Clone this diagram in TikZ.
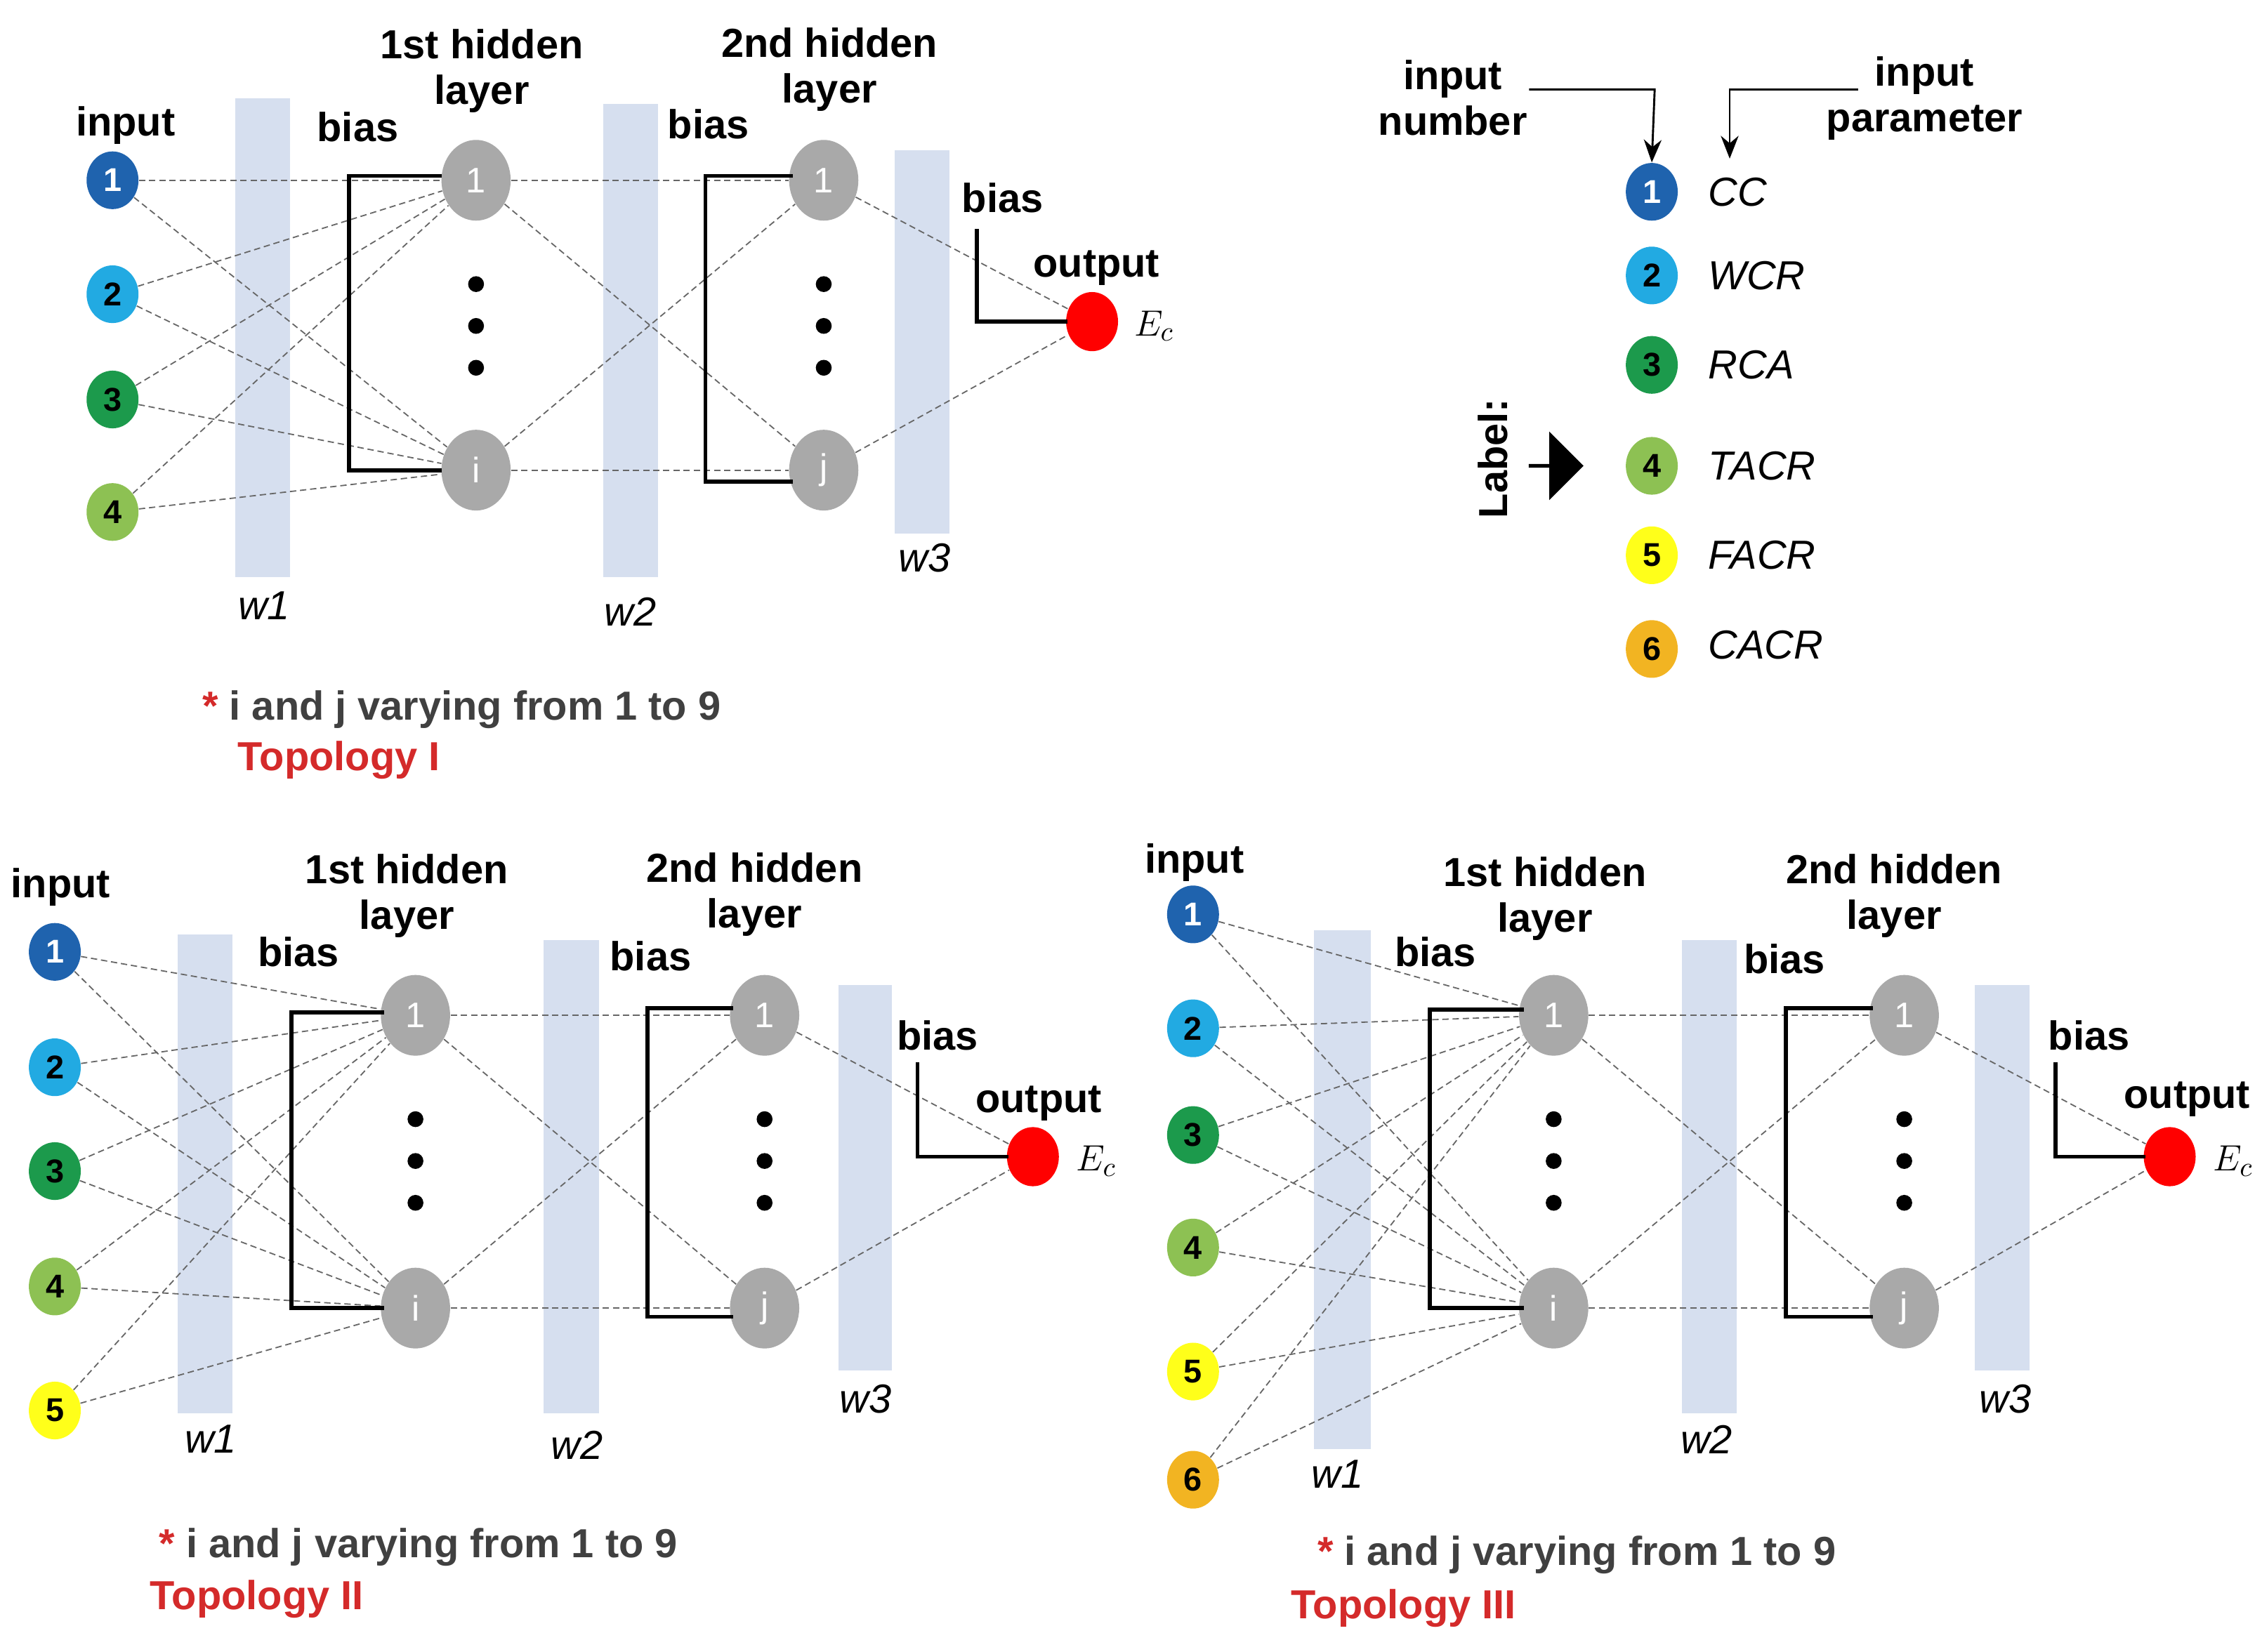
\documentclass[tikz,border=0pt]{standalone}
\usepackage{fontspec}
\setmainfont{Liberation Sans}
\usetikzlibrary{shapes.geometric,arrows.meta,shapes.arrows}
\definecolor{c1}{HTML}{1F63AE}\definecolor{c2}{HTML}{22AAE2}\definecolor{c3}{HTML}{1C9A4C}
\definecolor{c4}{HTML}{8DC153}\definecolor{c5}{HTML}{FFFF1A}\definecolor{c6}{HTML}{F2B422}
\definecolor{barc}{HTML}{D6DFEF}\definecolor{hid}{HTML}{A9A9A9}\definecolor{tred}{HTML}{D42A2A}
\tikzset{
 inp/.style={ellipse,minimum width=0.72cm,minimum height=0.8cm,inner sep=0pt,font=\fontsize{13}{13}\selectfont\bfseries},
 hn/.style={ellipse,fill=hid,minimum width=0.96cm,minimum height=1.12cm,inner sep=0pt,text=white,font=\fontsize{14}{14}\selectfont},
 outn/.style={ellipse,fill=red,minimum width=0.72cm,minimum height=0.82cm,inner sep=0pt},
 con/.style={dashed,dash pattern=on 2.5pt off 1.5pt,gray!80!black,line width=0.5pt},
 br/.style={line width=1.6pt,line cap=rect},
 lab/.style={font=\fontsize{16}{18}\selectfont\bfseries,align=center},
 wl/.style={font=\fontsize{16}{16}\selectfont\itshape\rmfamily},
 ec/.style={font=\fontsize{15}{15}\selectfont\rmfamily},
 par/.style={font=\fontsize{16}{16}\selectfont\itshape\rmfamily,anchor=west},
 bar/.style={fill=barc,draw=none},
 dot/.style={circle,fill=black,inner sep=0pt,minimum size=0.22cm},
 foot/.style={font=\fontsize{16}{16}\selectfont\bfseries,text=black!75},
 topo/.style={font=\fontsize{16}{16}\selectfont\bfseries,text=tred}
}
\begin{document}
\begin{tikzpicture}[x=0.02cm,y=-0.02cm]
\useasboundingbox (0,0) rectangle (1568,1145);
% ================= Topology I
\fill[bar] (163,68) rectangle (201,400);
\fill[bar] (418,72) rectangle (456,400);
\fill[bar] (620,104) rectangle (658,370);
\node[wl] (aw1) at (183,420) {w1};\node[wl] (aw2) at (437,424) {w2};\node[wl] (aw3) at (641,387) {w3};
\node[inp,fill=c1,text=white] (ai1) at (78,125) {1};
\node[inp,fill=c2] (ai2) at (78,204) {2};
\node[inp,fill=c3] (ai3) at (78,277) {3};
\node[inp,fill=c4] (ai4) at (78,355) {4};
\node[hn] (ah1) at (330,125) {1};\node[hn] (ahi) at (330,326) {i};
\node[hn] (ag1) at (571,125) {1};\node[hn] (agj) at (571,326) {j};
\node[outn] (ao) at (757,223) {};
\node[ec,anchor=west] (aec) at (780,226) {$E_c$};
\foreach \y in {197,226,255}{\node[dot] at (330,\y) {};\node[dot] at (571,\y) {};}
\foreach \a in {1,2,3,4}{\foreach \b in {h1,hi}{\draw[con] (ai\a) -- (a\b);}}
\foreach \a in {h1,hi}{\foreach \b in {g1,gj}{\draw[con] (a\a) -- (a\b);}}
\draw[con] (ag1) -- (ao); \draw[con] (agj) -- (ao);
\draw[br] (305,122) -- (242,122) -- (242,326) -- (305,326);
\draw[br] (548,122) -- (489,122) -- (489,334) -- (548,334);
\draw[br] (677,160) -- (677,223) -- (ao.west);
\node[lab] at (87,87) {input};
\node[lab] at (248,88) {bias};\node[lab] at (491,86) {bias};\node[lab] at (695,137) {bias};
\node[lab] at (334,49) {1st hidden\\layer};\node[lab] at (575,48) {2nd hidden\\layer};
\node[lab] at (760,186) {output};
\node[foot] at (320,492) {\textcolor{tred}{*} i and j varying from 1 to 9};
\node[topo] at (235,527) {Topology I};
% ================= Legend
\node[lab] (ln) at (1007,68) {input\\number};
\node[lab] (lp) at (1334,68) {input\\parameter};
\node[inp,fill=c1,text=white] (l1) at (1145,133) {1};
\node[inp,fill=c2] (l2) at (1145,191) {2};
\node[inp,fill=c3] (l3) at (1145,253) {3};
\node[inp,fill=c4] (l4) at (1145,323) {4};
\node[inp,fill=c5] (l5) at (1145,385) {5};
\node[inp,fill=c6] (l6) at (1145,450) {6};
\node[par] (p1) at (1178,133) {CC};
\node[par] (p2) at (1178,191) {WCR};
\node[par] (p3) at (1178,253) {RCA};
\node[par] (p4) at (1178,323) {TACR};
\node[par] (p5) at (1178,385) {FACR};
\node[par] (p6) at (1178,447) {CACR};
\coordinate (n1) at (1060,62);\coordinate (n2) at (1288,62);
\draw[line width=0.8pt,-{Stealth[length=9pt,width=7pt]}] (n1) -- (1147,62) -- (l1.north);
\draw[line width=0.8pt,-{Stealth[length=9pt,width=7pt]}] (n2) -- (1199,62) -- (1199,110);
\node[lab,rotate=90] (lbl) at (1035,318) {Label:};
\node[single arrow,fill=black,minimum height=0.76cm,minimum width=0.95cm,single arrow head extend=0.12cm,inner sep=0pt] (larr) at (1078,323) {};
% ================= Topology II
\fill[bar] (123,648) rectangle (161,980);
\fill[bar] (377,652) rectangle (415,980);
\fill[bar] (581,683) rectangle (618,950);
\node[wl] at (146,998) {w1};\node[wl] at (400,1002) {w2};\node[wl] at (600,970) {w3};
\node[inp,fill=c1,text=white] (bi1) at (38,660) {1};
\node[inp,fill=c2] (bi2) at (38,740) {2};
\node[inp,fill=c3] (bi3) at (38,812) {3};
\node[inp,fill=c4] (bi4) at (38,892) {4};
\node[inp,fill=c5] (bi5) at (38,978) {5};
\node[hn] (bh1) at (288,704) {1};\node[hn] (bhi) at (288,907) {i};
\node[hn] (bg1) at (530,704) {1};\node[hn] (bgj) at (530,907) {j};
\node[outn] (bo) at (716,802) {};
\node[ec,anchor=west] at (740,805) {$E_c$};
\foreach \y in {776,805,834}{\node[dot] at (288,\y) {};\node[dot] at (530,\y) {};}
\foreach \a in {1,...,5}{\foreach \b in {h1,hi}{\draw[con] (bi\a) -- (b\b);}}
\foreach \a in {h1,hi}{\foreach \b in {g1,gj}{\draw[con] (b\a) -- (b\b);}}
\draw[con] (bg1) -- (bo); \draw[con] (bgj) -- (bo);
\draw[br] (265,702) -- (202,702) -- (202,907) -- (265,907);
\draw[br] (507,699) -- (449,699) -- (449,913) -- (507,913);
\draw[br] (636,738) -- (636,802) -- (bo.west);
\node[lab] at (42,615) {input};
\node[lab] at (207,660) {bias};\node[lab] at (451,663) {bias};\node[lab] at (650,718) {bias};
\node[lab] at (282,621) {1st hidden\\layer};\node[lab] at (523,620) {2nd hidden\\layer};
\node[lab] at (720,765) {output};
\node[foot] at (290,1073) {\textcolor{tred}{*} i and j varying from 1 to 9};
\node[topo] at (178,1109) {Topology II};
% ================= Topology III
\fill[bar] (911,645) rectangle (950,1005);
\fill[bar] (1166,652) rectangle (1204,980);
\fill[bar] (1369,683) rectangle (1407,950);
\node[wl] at (927,1022) {w1};\node[wl] at (1183,998) {w2};\node[wl] at (1390,970) {w3};
\node[inp,fill=c1,text=white] (ci1) at (827,634) {1};
\node[inp,fill=c2] (ci2) at (827,713) {2};
\node[inp,fill=c3] (ci3) at (827,787) {3};
\node[inp,fill=c4] (ci4) at (827,865) {4};
\node[inp,fill=c5] (ci5) at (827,951) {5};
\node[inp,fill=c6] (ci6) at (827,1026) {6};
\node[hn] (ch1) at (1077,704) {1};\node[hn] (chi) at (1077,907) {i};
\node[hn] (cg1) at (1320,704) {1};\node[hn] (cgj) at (1320,907) {j};
\node[outn] (co) at (1504,802) {};
\node[ec,anchor=west] at (1528,805) {$E_c$};
\foreach \y in {776,805,834}{\node[dot] at (1077,\y) {};\node[dot] at (1320,\y) {};}
\foreach \a in {1,...,6}{\foreach \b in {h1,hi}{\draw[con] (ci\a) -- (c\b);}}
\foreach \a in {h1,hi}{\foreach \b in {g1,gj}{\draw[con] (c\a) -- (c\b);}}
\draw[con] (cg1) -- (co); \draw[con] (cgj) -- (co);
\draw[br] (1055,700) -- (991,700) -- (991,907) -- (1055,907);
\draw[br] (1297,699) -- (1238,699) -- (1238,913) -- (1297,913);
\draw[br] (1425,738) -- (1425,802) -- (co.west);
\node[lab] at (828,598) {input};
\node[lab] at (995,660) {bias};\node[lab] at (1237,665) {bias};\node[lab] at (1448,718) {bias};
\node[lab] at (1071,623) {1st hidden\\layer};\node[lab] at (1313,621) {2nd hidden\\layer};
\node[lab] at (1516,762) {output};
\node[foot] at (1093,1078) {\textcolor{tred}{*} i and j varying from 1 to 9};
\node[topo] at (973,1115) {Topology III};
\end{tikzpicture}
\end{document}
